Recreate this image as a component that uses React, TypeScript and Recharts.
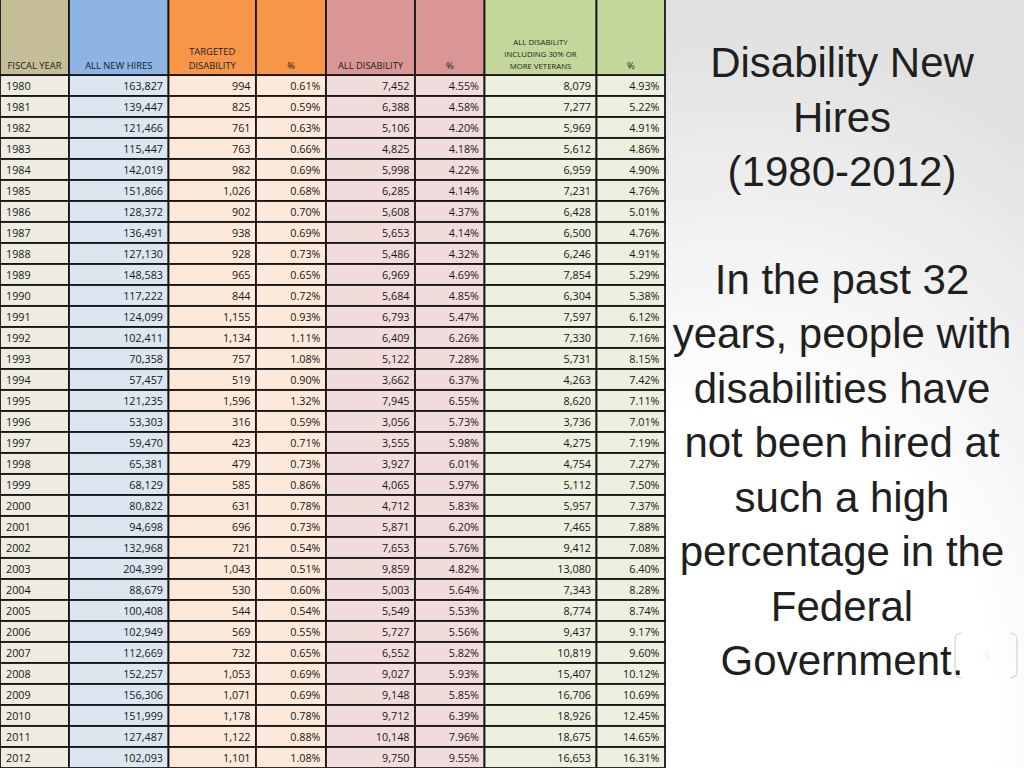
import React from 'react';
import { BarChart, Bar, XAxis, YAxis } from 'recharts';

// ---------- data ----------
const fiscalYears = [
  1980, 1981, 1982, 1983, 1984, 1985, 1986, 1987, 1988, 1989, 1990, 1991, 1992, 1993, 1994, 1995, 1996,
  1997, 1998, 1999, 2000, 2001, 2002, 2003, 2004, 2005, 2006, 2007, 2008, 2009, 2010, 2011, 2012,
];
const allNewHires = [
  163827, 139447, 121466, 115447, 142019, 151866, 128372, 136491, 127130, 148583, 117222, 124099, 102411,
  70358, 57457, 121235, 53303, 59470, 65381, 68129, 80822, 94698, 132968, 204399, 88679, 100408, 102949,
  112669, 152257, 156306, 151999, 127487, 102093,
];
const targetedDisability = [
  994, 825, 761, 763, 982, 1026, 902, 938, 928, 965, 844, 1155, 1134, 757, 519, 1596, 316, 423, 479, 585,
  631, 696, 721, 1043, 530, 544, 569, 732, 1053, 1071, 1178, 1122, 1101,
];
const targetedPct = [
  0.61, 0.59, 0.63, 0.66, 0.69, 0.68, 0.7, 0.69, 0.73, 0.65, 0.72, 0.93, 1.11, 1.08, 0.9, 1.32, 0.59, 0.71,
  0.73, 0.86, 0.78, 0.73, 0.54, 0.51, 0.6, 0.54, 0.55, 0.65, 0.69, 0.69, 0.78, 0.88, 1.08,
];
const allDisability = [
  7452, 6388, 5106, 4825, 5998, 6285, 5608, 5653, 5486, 6969, 5684, 6793, 6409, 5122, 3662, 7945, 3056,
  3555, 3927, 4065, 4712, 5871, 7653, 9859, 5003, 5549, 5727, 6552, 9027, 9148, 9712, 10148, 9750,
];
const allDisabilityPct = [
  4.55, 4.58, 4.2, 4.18, 4.22, 4.14, 4.37, 4.14, 4.32, 4.69, 4.85, 5.47, 6.26, 7.28, 6.37, 6.55, 5.73, 5.98,
  6.01, 5.97, 5.83, 6.2, 5.76, 4.82, 5.64, 5.53, 5.56, 5.82, 5.93, 5.85, 6.39, 7.96, 9.55,
];
const withVeterans = [
  8079, 7277, 5969, 5612, 6959, 7231, 6428, 6500, 6246, 7854, 6304, 7597, 7330, 5731, 4263, 8620, 3736,
  4275, 4754, 5112, 5957, 7465, 9412, 13080, 7343, 8774, 9437, 10819, 15407, 16706, 18926, 18675, 16653,
];
const withVeteransPct = [
  4.93, 5.22, 4.91, 4.86, 4.9, 4.76, 5.01, 4.76, 4.91, 5.29, 5.38, 6.12, 7.16, 8.15, 7.42, 7.11, 7.01, 7.19,
  7.27, 7.5, 7.37, 7.88, 7.08, 6.4, 8.28, 8.74, 9.17, 9.6, 10.12, 10.69, 12.45, 14.65, 16.31,
];

const headerLabels = [
  ['FISCAL YEAR'],
  ['ALL NEW HIRES'],
  ['TARGETED', 'DISABILITY'],
  ['%'],
  ['ALL DISABILITY'],
  ['%'],
  ['ALL DISABILITY', 'INCLUDING 30% OR', 'MORE VETERANS'],
  ['%'],
];

const titleLines = ['Disability New', 'Hires', '(1980-2012)'];
const bodyLines = [
  'In the past 32',
  'years, people with',
  'disabilities have',
  'not been hired at',
  'such a high',
  'percentage in the',
  'Federal',
  'Government.',
];
const pageNumber = '3';

// ---------- table built from the arrays ----------
const rows = fiscalYears.map((year, i) => ({
  year,
  hires: allNewHires[i],
  targeted: targetedDisability[i],
  targetedPct: targetedPct[i],
  allDis: allDisability[i],
  allDisPct: allDisabilityPct[i],
  vets: withVeterans[i],
  vetsPct: withVeteransPct[i],
}));

// ---------- layout / style ----------
const EDGES = [0, 69, 168.5, 256, 326, 415, 484.5, 596.5, 665];
const HEADER_H = 75;
const fmtInt = (v: number) => v.toLocaleString('en-US');
const fmtPct = (v: number) => v.toFixed(2) + '%';
const fmtYear = (v: number) => String(v);

type Col = {
  key: string;
  head: string;
  body: string;
  align: 'left' | 'right';
  fmt: (v: number) => string;
  small?: boolean;
};
const COLS: Col[] = [
  { key: 'year', head: '#c4bd97', body: '#eeece1', align: 'left', fmt: fmtYear },
  { key: 'hires', head: '#8db4e2', body: '#dce6f1', align: 'right', fmt: fmtInt },
  { key: 'targeted', head: '#f79646', body: '#fde9d9', align: 'right', fmt: fmtInt },
  { key: 'targetedPct', head: '#f79646', body: '#fde9d9', align: 'right', fmt: fmtPct },
  { key: 'allDis', head: '#da9694', body: '#f2dcdb', align: 'right', fmt: fmtInt },
  { key: 'allDisPct', head: '#da9694', body: '#f2dcdb', align: 'right', fmt: fmtPct },
  { key: 'vets', head: '#c4d79b', body: '#ebf1de', align: 'right', fmt: fmtInt, small: true },
  { key: 'vetsPct', head: '#c4d79b', body: '#ebf1de', align: 'right', fmt: fmtPct },
];
const CENTERS = EDGES.slice(0, -1).map((e, i) => (e + EDGES[i + 1]) / 2);
const CELL_FONT = '"Open Sans", "Noto Sans", sans-serif';
const LINE = '#161616';

const makeCell = (col: Col) => (props: any) => {
  const { x, y, width, height, payload } = props;
  const v = payload[col.key];
  const tx = col.align === 'left' ? x + 6 : x + width - 5.5;
  return (
    <g>
      <rect x={x} y={y} width={width} height={height} fill={col.body} stroke={LINE} strokeWidth={1.8} />
      <text
        x={tx}
        y={y + height / 2 + 4.2}
        textAnchor={col.align === 'left' ? 'start' : 'end'}
        fontFamily={CELL_FONT}
        fontSize={10.8}
        fill="#161616"
      >
        {col.fmt(v)}
      </text>
    </g>
  );
};

const HeaderTick = (props: any) => {
  const i = props.index as number;
  const col = COLS[i];
  const lines = headerLabels[i];
  const x0 = EDGES[i];
  const w = EDGES[i + 1] - EDGES[i];
  const cx = x0 + w / 2;
  const fs = col.small ? 7.8 : 9.4;
  const lh = col.small ? 11.7 : 14;
  const lastBase = col.small ? 68.5 : 69;
  return (
    <g>
      <rect x={x0} y={-1} width={w} height={HEADER_H + 1} fill={col.head} stroke={LINE} strokeWidth={1.8} />
      {lines.map((t, k) => (
        <text
          key={k}
          x={cx}
          y={lastBase - (lines.length - 1 - k) * lh}
          textAnchor="middle"
          fontFamily={CELL_FONT}
          fontSize={fs}
          fill="#161d26"
        >
          {t}
        </text>
      ))}
    </g>
  );
};

export default function App() {
  const textFont = '"Liberation Sans", Arial, sans-serif';
  return (
    <div
      style={{
        position: 'absolute',
        left: 0,
        top: 0,
        width: 1024,
        height: 768,
        overflow: 'hidden',
        background:
          'radial-gradient(ellipse 560px 700px at 740px 720px, #ffffff 0%, #ffffff 45%, #ececec 80%, #e0e0e0 100%)',
      }}
    >
      <div style={{ position: 'absolute', left: 0, top: 0 }}>
        <BarChart
          width={1024}
          height={768}
          data={rows}
          layout="vertical"
          margin={{ top: 0, right: 0, bottom: 0, left: 0 }}
          barCategoryGap={0}
          barGap={0}
        >
          <XAxis
            type="number"
            orientation="top"
            domain={[0, 1024]}
            allowDataOverflow
            height={HEADER_H}
            ticks={CENTERS}
            interval={0}
            tick={<HeaderTick />}
            tickLine={false}
            axisLine={false}
          />
          <YAxis type="category" dataKey="year" hide />
          {COLS.map((col, i) => (
            <Bar
              key={col.key}
              dataKey={() => EDGES[i + 1] - EDGES[i]}
              stackId="table"
              isAnimationActive={false}
              shape={makeCell(col)}
            />
          ))}
        </BarChart>
      </div>
      <svg
        width={1024}
        height={768}
        style={{ position: 'absolute', left: 0, top: 0, pointerEvents: 'none' }}
      >
        {titleLines.map((t, k) => (
          <text key={'t' + k} x={842} y={77 + k * 54.7} textAnchor="middle" fontFamily={textFont} fontSize={42} fill="#1f1f1f">
            {t}
          </text>
        ))}
        {bodyLines.map((t, k) => (
          <text key={'b' + k} x={842} y={294 + k * 54.43} textAnchor="middle" fontFamily={textFont} fontSize={42} fill="#1f1f1f">
            {t}
          </text>
        ))}
        <path d="M962 633 Q955 633 955 640 L955 671 Q955 678 962 678" fill="none" stroke="#d4d4d4" strokeWidth={1.2} />
        <path d="M1010 633 Q1017 633 1017 640 L1017 671 Q1017 678 1010 678" fill="none" stroke="#d4d4d4" strokeWidth={1.2} />
        <text x={986} y={661} textAnchor="middle" fontFamily={textFont} fontSize={15} fill="#f4f4f4">
          {pageNumber}
        </text>
      </svg>
    </div>
  );
}
